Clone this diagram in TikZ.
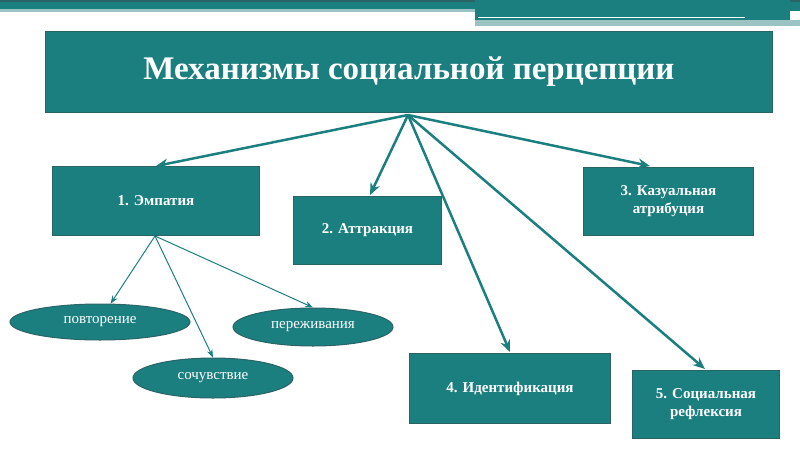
\documentclass[tikz,border=0pt]{standalone}
\usepackage{fontspec}
\setmainfont{Liberation Serif}
\usetikzlibrary{arrows.meta,shapes.geometric}
\definecolor{tl}{HTML}{1B7F80}
\definecolor{tld}{HTML}{2B6466}
\definecolor{tll}{HTML}{9CC3C4}
\begin{document}
\begin{tikzpicture}[x=1pt,y=-1pt,
 box/.style={draw=tld,line width=1pt,fill=tl,text=white,font=\bfseries\fontsize{15}{18}\selectfont,align=center,anchor=north west,inner sep=0pt},
 ell/.style={draw=tld,line width=1pt,fill=tl,text=white,ellipse,font=\fontsize{15}{18}\selectfont,inner sep=0pt},
 big/.style={-{Stealth[length=12pt,width=10pt]},draw=tl,line width=2.5pt},
 small/.style={-{Stealth[length=8pt,width=6pt]},draw=tl,line width=1pt}]
\useasboundingbox (0,0) rectangle (800,450);
\fill[tl] (0,0) rectangle (800,11);
\fill[tld] (0,0) rectangle (800,2);
\fill[tll] (0,9) rectangle (475,12);
\fill[tl] (475,0) rectangle (790,20);
\fill[tll] (475,20) rectangle (800,26);
\draw[white,line width=1pt] (478,17) -- (745,17);
\node[box,minimum width=727pt,minimum height=81pt,font=\bfseries\fontsize{33}{36}\selectfont] (t) at (45,31) {Механизмы социальной перцепции};
\node[box,minimum width=207pt,minimum height=69pt] (b1) at (52,166) {1. Эмпатия};
\node[box,minimum width=148pt,minimum height=68pt] (b2) at (293,196) {2. Аттракция};
\node[box,minimum width=170pt,minimum height=68pt] (b3) at (583,167) {3. Казуальная\\атрибуция};
\node[box,minimum width=201pt,minimum height=70pt] (b4) at (409,353) {4. Идентификация};
\node[box,minimum width=147pt,minimum height=68pt] (b5) at (632,370) {5. Социальная\\рефлексия};
\node[ell,minimum width=180pt,minimum height=36pt] (e1) at (100,322) {повторение};
\node[ell,minimum width=160pt,minimum height=38pt] (e2) at (313,327) {переживания};
\node[ell,minimum width=160pt,minimum height=40pt] (e3) at (213,378) {сочувствие};
\coordinate (s) at (408,115);
\coordinate (s1) at (155,236);
\draw[big] (s) -- (b1.north);
\draw[big] (s) -- (370,195);
\draw[big] (s) -- (650,166);
\draw[big] (s) -- (510,352);
\draw[big] (s) -- (705,369);
\draw[small] (s1) -- (e1.60);
\draw[small] (s1) -- (e3.north);
\draw[small] (s1) -- (e2.north);
\end{tikzpicture}
\end{document}
